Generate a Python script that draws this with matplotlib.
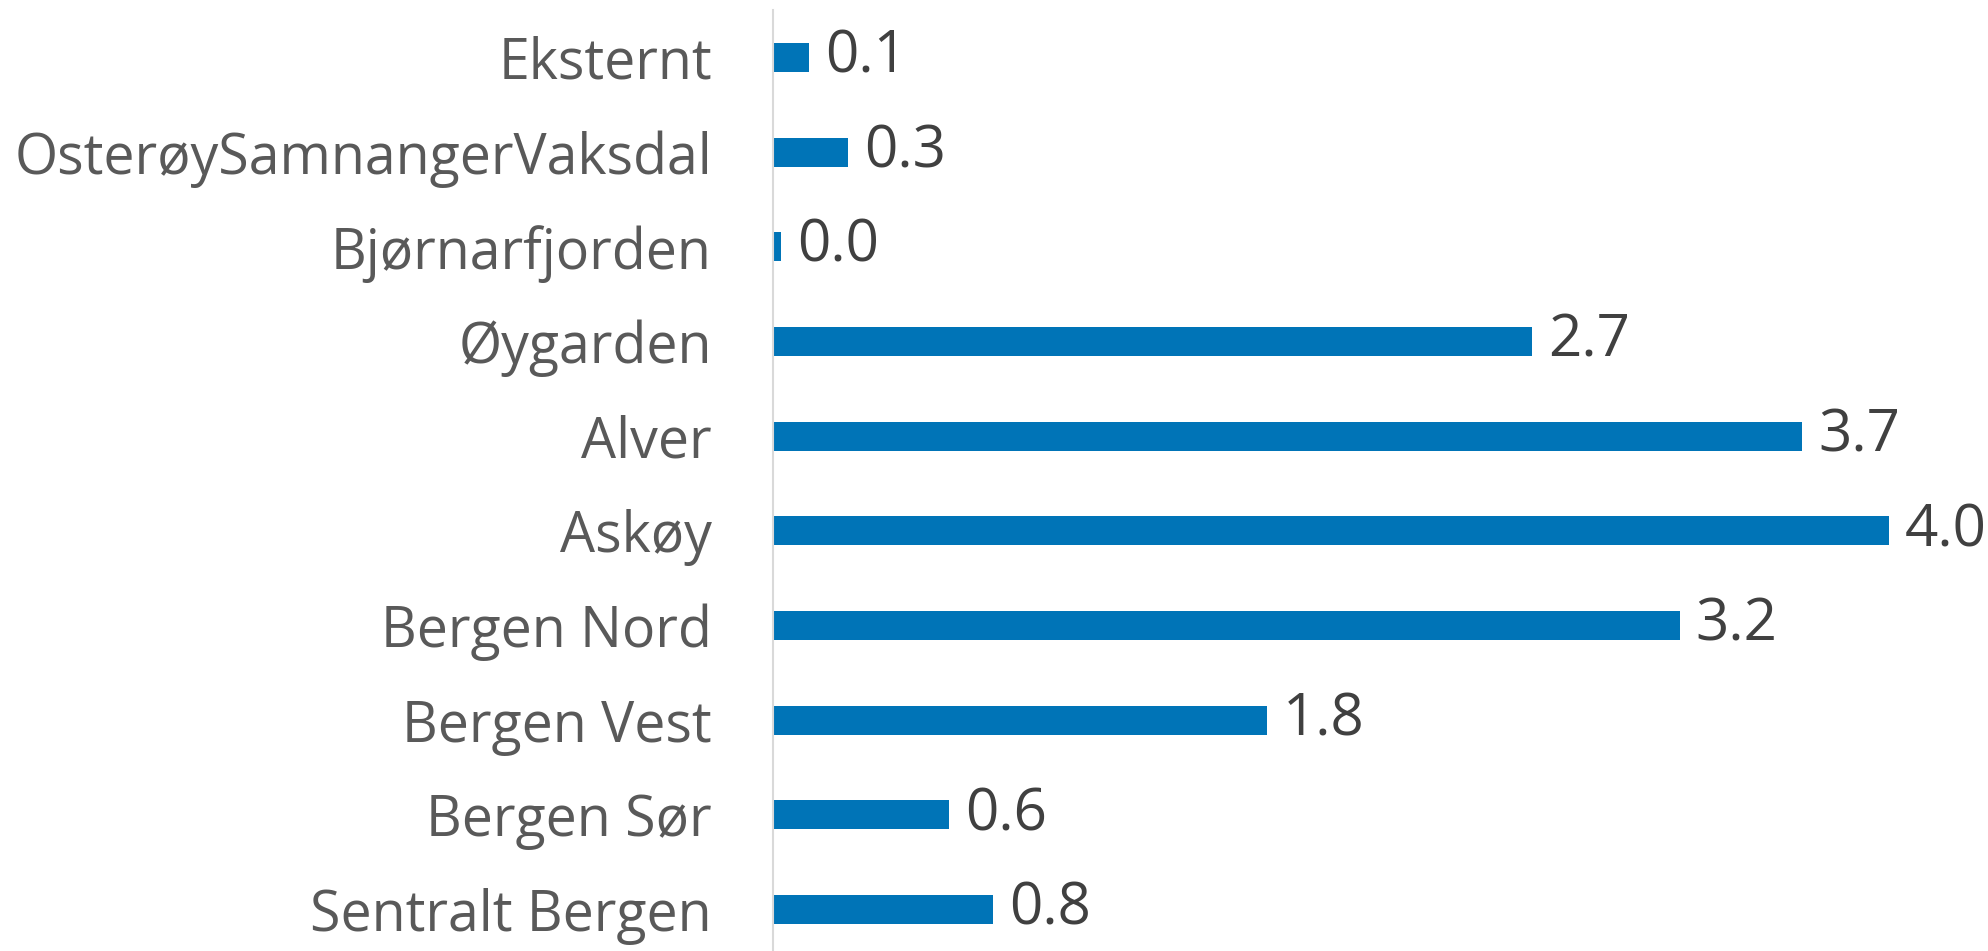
import matplotlib
matplotlib.use("Agg")
import matplotlib.pyplot as plt

# categories from top to bottom
regions = ["Eksternt", "OsterøySamnangerVaksdal", "Bjørnarfjorden", "Øygarden",
           "Alver", "Askøy", "Bergen Nord", "Bergen Vest", "Bergen Sør",
           "Sentralt Bergen"]
values = [0.13, 0.27, 0.03, 2.72, 3.69, 4.0, 3.25, 1.77, 0.63, 0.79]

plt.rcParams['font.family'] = ['Open Sans', 'DejaVu Sans']

fig = plt.figure(figsize=(19.88, 9.51), dpi=100)
ax = fig.add_axes([773 / 1988, -6 / 951, 1 - 773 / 1988, 947 / 951])

pos = list(range(len(regions)))
ax.barh(pos, values, height=0.306, color="#0074B7")

for y, v in zip(pos, values):
    ax.annotate(f"{v:.1f}", (v, y), xytext=(16, 0), textcoords="offset pixels",
                va="center", ha="left", fontsize=42, color="#404040")

ax.set_yticks(pos)
ax.set_yticklabels(regions, fontsize=40, color="#595959")
ax.tick_params(axis="y", length=0, pad=44)
ax.set_xticks([])
ax.set_xlim(0, 4.355)
ax.set_ylim(9.5, -0.5)

for side in ["top", "right", "bottom"]:
    ax.spines[side].set_visible(False)
ax.spines["left"].set_color("#D9D9D9")
ax.spines["left"].set_linewidth(1.5)

fig.savefig("out.png", dpi=100)
